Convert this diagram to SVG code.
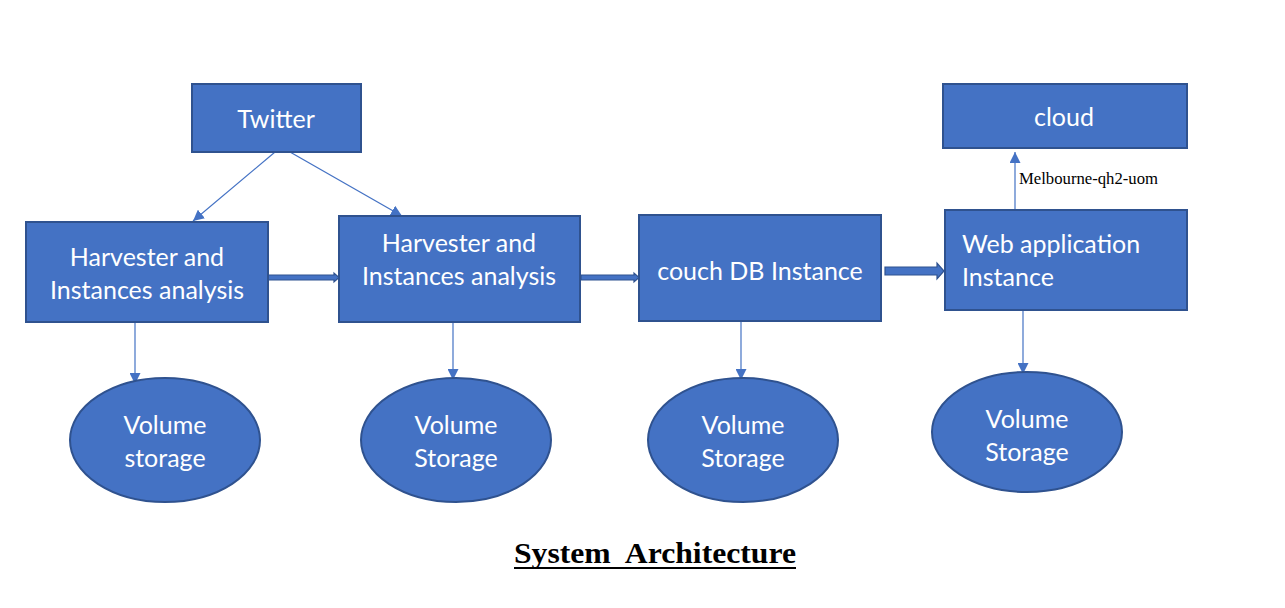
<svg xmlns="http://www.w3.org/2000/svg" width="1285" height="608" viewBox="0 0 1285 608">
<defs>
<style>
.box{fill:#4472C4;stroke:#2F528F;stroke-width:2}
.lbl{font-family:Lato,"Open Sans",sans-serif;font-size:25px;fill:#fff}
.ln{stroke:#4472C4;stroke-width:1.2;fill:none}
.blk{fill:#4472C4;stroke:#2F528F;stroke-width:1.2}
</style>
<marker id="ah" viewBox="0 0 10 10" refX="10" refY="5" markerWidth="11" markerHeight="11" markerUnits="userSpaceOnUse" orient="auto">
<path d="M0,0 L10,5 L0,10 Z" fill="#4472C4"/>
</marker>
</defs>
<rect width="1285" height="608" fill="#fff"/>
<g id="connectors">
<line class="ln" x1="275" y1="152" x2="193" y2="221" marker-end="url(#ah)"/>
<line class="ln" x1="290" y1="152" x2="402" y2="216" marker-end="url(#ah)"/>
<line class="ln" x1="1015" y1="210" x2="1015" y2="152" marker-end="url(#ah)"/>
<line class="ln" x1="135" y1="323" x2="135" y2="384" marker-end="url(#ah)"/>
<line class="ln" x1="453" y1="323" x2="453" y2="380" marker-end="url(#ah)"/>
<line class="ln" x1="741" y1="322" x2="741" y2="380" marker-end="url(#ah)"/>
<line class="ln" x1="1023" y1="311" x2="1023" y2="374" marker-end="url(#ah)"/>
<path class="blk" d="M268,275 L334,275 L334,273 L339,277.5 L334,282 L334,280 L268,280 Z"/>
<path class="blk" d="M581,275 L634,275 L634,273 L639,277.5 L634,282 L634,280 L581,280 Z"/>
<path class="blk" d="M885,267 L937,267 L937,263 L944,271 L937,279 L937,275 L885,275 Z"/>
<text x="1019" y="184" font-family="'Liberation Serif',serif" font-size="16" fill="#000" textLength="139" lengthAdjust="spacingAndGlyphs">Melbourne-qh2-uom</text>
</g>
<g id="twitter"><rect class="box" x="192" y="84" width="169" height="68"/><text class="lbl" x="276" y="128" text-anchor="middle">Twitter</text></g>
<g id="harvester1"><rect class="box" x="26" y="222" width="242" height="100"/><text class="lbl" x="147" y="266" text-anchor="middle">Harvester and</text><text class="lbl" x="147" y="299" text-anchor="middle">Instances analysis</text></g>
<g id="harvester2"><rect class="box" x="339" y="216" width="241" height="106"/><text class="lbl" x="459" y="252" text-anchor="middle">Harvester and</text><text class="lbl" x="459" y="285" text-anchor="middle">Instances analysis</text></g>
<g id="couchdb"><rect class="box" x="639" y="215" width="242" height="106"/><text class="lbl" x="760" y="280" text-anchor="middle">couch DB Instance</text></g>
<g id="webapp"><rect class="box" x="945" y="210" width="242" height="100"/><text class="lbl" x="962" y="253">Web application</text><text class="lbl" x="962" y="286">Instance</text></g>
<g id="cloud"><rect class="box" x="943" y="84" width="244" height="64"/><text class="lbl" x="1064" y="126" text-anchor="middle">cloud</text></g>
<g id="vol1"><ellipse class="box" cx="165" cy="440" rx="95" ry="62"/><text class="lbl" x="165" y="434" text-anchor="middle">Volume</text><text class="lbl" x="165" y="467" text-anchor="middle">storage</text></g>
<g id="vol2"><ellipse class="box" cx="456" cy="440" rx="95" ry="62"/><text class="lbl" x="456" y="434" text-anchor="middle">Volume</text><text class="lbl" x="456" y="467" text-anchor="middle">Storage</text></g>
<g id="vol3"><ellipse class="box" cx="743" cy="440" rx="95" ry="62"/><text class="lbl" x="743" y="434" text-anchor="middle">Volume</text><text class="lbl" x="743" y="467" text-anchor="middle">Storage</text></g>
<g id="vol4"><ellipse class="box" cx="1027" cy="432" rx="95" ry="60"/><text class="lbl" x="1027" y="428" text-anchor="middle">Volume</text><text class="lbl" x="1027" y="461" text-anchor="middle">Storage</text></g>
<g id="title"><text x="514" y="563" font-family="'Liberation Serif',serif" font-size="30" font-weight="bold" fill="#000" textLength="282" lengthAdjust="spacingAndGlyphs" xml:space="preserve">System  Architecture</text><rect x="514" y="567" width="282" height="2" fill="#000"/></g>
</svg>
